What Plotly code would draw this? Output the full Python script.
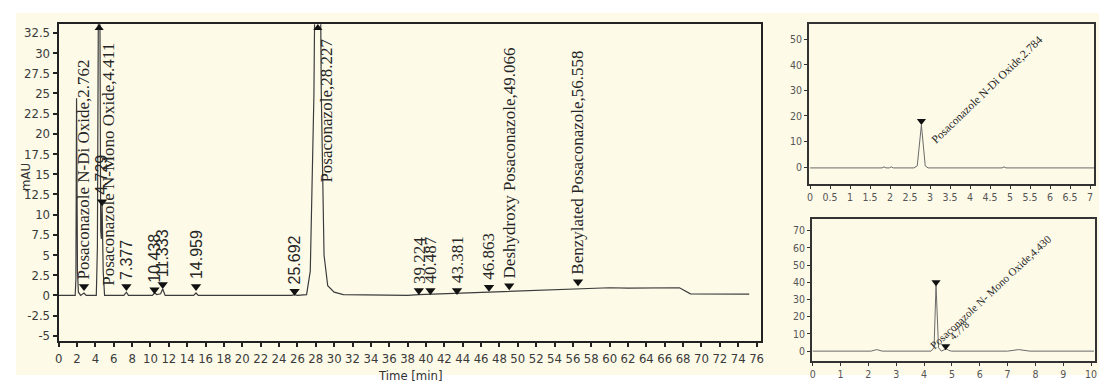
import plotly.graph_objects as go

# ---------------- main chromatogram (0-76 min) ----------------
main_time = [0.0, 1.80, 1.88, 1.95, 2.05, 2.15, 2.40, 2.762, 3.00, 4.10, 4.22, 4.411, 4.58, 4.65,
             4.729, 4.85, 5.00, 7.10, 7.377, 7.60, 10.20, 10.438, 10.70, 11.10, 11.333, 11.60,
             14.70, 14.959, 15.20, 25.40, 25.692, 26.00, 27.00, 27.40, 27.80, 28.227, 28.60,
             28.90, 29.30, 30.00, 31.00, 38.00, 39.224, 40.487, 43.381, 46.863, 49.066, 50.00,
             52.00, 56.558, 60.00, 62.00, 67.60, 68.80, 75.20]
main_mau = [0.0, 0.0, 2.0, 24.4, 3.0, 0.4, 0.0, 0.3, 0.0, 0.0, 6.0, 60.0, 8.0, 7.0,
            11.3, 3.0, 0.0, 0.0, 0.4, 0.0, 0.0, 0.3, 0.1, 0.2, 0.8, 0.0,
            0.0, 0.3, 0.0, 0.0, 0.1, 0.0, 0.1, 3.0, 25.0, 80.0, 25.0,
            5.0, 1.2, 0.4, 0.1, 0.0, 0.1, 0.15, 0.25, 0.4, 0.5, 0.55,
            0.65, 0.85, 0.95, 0.9, 0.95, 0.2, 0.15]

# integrated peaks (retention time, marker height, compound name)
peak_rt = [2.762, 4.729, 7.377, 10.438, 11.333, 14.959, 25.692,
           39.224, 40.487, 43.381, 46.863, 49.066, 56.558]
peak_mark = [1.1, 11.6, 1.1, 0.7, 1.35, 1.1, 0.5,
             0.6, 0.6, 0.6, 1.0, 1.2, 1.7]
peak_name = ["Posaconazole N-Di Oxide", "", "", "", "", "", "",
             "", "", "", "", "Deshydroxy Posaconazole", "Benzylated Posaconazole"]

# off-scale peaks
big_rt = [4.411, 28.227]
big_name = ["Posaconazole N-Mono Oxide", "Posaconazole"]

main_xticks = list(range(0, 77, 2))
main_yticks = [-5, -2.5, 0, 2.5, 5, 7.5, 10, 12.5, 15, 17.5, 20, 22.5, 25, 27.5, 30, 32.5]
main_ytext = ["-5", "-2.5", "0", "2.5", "5", "7.5", "10", "12.5", "15", "17.5",
              "20", "22.5", "25", "27.5", "30", "32.5"]

# ---------------- inset: N-Di Oxide standard ----------------
di_time = [0.0, 1.80, 1.85, 1.90, 1.98, 2.03, 2.08, 2.60, 2.68, 2.784, 2.88, 2.95,
           3.30, 4.80, 4.85, 4.90, 7.10]
di_mau = [-0.3, -0.3, 0.1, -0.3, -0.3, 0.1, -0.3, -0.3, 0.5, 16.5, 0.5, -0.3,
          -0.3, -0.3, 0.1, -0.3, -0.3]
di_peak = [2.784]
di_mark = [18.0]
di_label = ["Posaconazole N-Di Oxide,2.784"]
di_xticks = [0, 0.5, 1, 1.5, 2, 2.5, 3, 3.5, 4, 4.5, 5, 5.5, 6, 6.5, 7]
di_xtext = ["0", "0.5", "1", "1.5", "2", "2.5", "3", "3.5", "4", "4.5", "5", "5.5", "6", "6.5", "7"]
di_yticks = [0, 10, 20, 30, 40, 50]

# ---------------- inset: N-Mono Oxide standard ----------------
mono_time = [0.0, 2.10, 2.30, 2.50, 4.25, 4.36, 4.43, 4.52, 4.62, 4.72, 4.80, 4.88,
             4.98, 7.00, 7.40, 7.80, 10.10]
mono_mau = [0.0, 0.0, 0.9, 0.0, 0.0, 2.0, 38.5, 2.0, 0.0, 0.8, 1.4, 0.5,
            0.0, 0.0, 0.9, 0.0, 0.0]
mono_peak = [4.430, 4.778]
mono_mark = [40.0, 2.9]
mono_label = ["Posaconazole N- Mono Oxide,4.430", "4.778"]
mono_xticks = list(range(0, 11))
mono_yticks = [0, 10, 20, 30, 40, 50, 60, 70]

INK = "#262626"
TICK_FONT = "Liberation Sans Narrow, DejaVu Sans Condensed, Liberation Sans, sans-serif"
SERIF = "Liberation Serif, Times New Roman, serif"
SANS = "Liberation Sans, Arial, sans-serif"
CREAM = "#FDFAE8"

W, H = 1102, 385


def px(xp):
    return xp / W


def py(yp):
    return 1 - yp / H


fig = go.Figure()

# traces
fig.add_trace(go.Scatter(x=main_time, y=main_mau, mode="lines",
                         line=dict(color="#3c3c3c", width=1.2), xaxis="x", yaxis="y"))
fig.add_trace(go.Scatter(x=peak_rt, y=peak_mark, mode="markers", cliponaxis=False,
                         marker=dict(symbol="triangle-down", size=9, color="#111"),
                         xaxis="x", yaxis="y"))
fig.add_trace(go.Scatter(x=big_rt, y=[33.1, 33.1], mode="markers", cliponaxis=False,
                         marker=dict(symbol="triangle-up", size=8, color="#111"),
                         xaxis="x", yaxis="y"))

fig.add_trace(go.Scatter(x=di_time, y=di_mau, mode="lines",
                         line=dict(color="#6a6a6a", width=1), xaxis="x2", yaxis="y2"))
fig.add_trace(go.Scatter(x=di_peak, y=di_mark, mode="markers", cliponaxis=False,
                         marker=dict(symbol="triangle-down", size=8, color="#111"),
                         xaxis="x2", yaxis="y2"))

fig.add_trace(go.Scatter(x=mono_time, y=mono_mau, mode="lines",
                         line=dict(color="#6a6a6a", width=1), xaxis="x3", yaxis="y3"))
fig.add_trace(go.Scatter(x=mono_peak, y=mono_mark, mode="markers", cliponaxis=False,
                         marker=dict(symbol="triangle-down", size=8, color="#111"),
                         xaxis="x3", yaxis="y3"))

annotations = []

# labels of integrated peaks, written vertically above their markers
for rt, m, name in zip(peak_rt, peak_mark, peak_name):
    rt_txt = f"{rt:.3f}"
    if name:
        text, family = f"{name},{rt_txt}", SERIF
    elif rt < 30:
        text, family = rt_txt, SANS
    else:
        text, family = rt_txt, SERIF
    annotations.append(dict(x=rt, y=m, xref="x", yref="y", text=text, textangle=-90,
                            showarrow=False, xanchor="center", yanchor="bottom", yshift=5,
                            font=dict(family=family, size=17 if family == SERIF else 16, color=INK)))

# off-scale peak labels
big_base = [0.9, 13.7]
for rt, name, base in zip(big_rt, big_name, big_base):
    annotations.append(dict(x=rt, y=base, xref="x", yref="y", text=f"{name},{rt:.3f}",
                            textangle=-90, showarrow=False, xanchor="center", yanchor="bottom",
                            xshift=9, font=dict(family=SERIF, size=17, color=INK)))

# inset labels
annotations.append(dict(x=2.92, y=7.0, xref="x2", yref="y2", text=di_label[0], textangle=-44,
                        showarrow=False, xanchor="left", yanchor="bottom",
                        font=dict(family=SERIF, size=11.5, color=INK)))
annotations.append(dict(x=4.02, y=-1.5, xref="x3", yref="y3", text=mono_label[0], textangle=-43,
                        showarrow=False, xanchor="left", yanchor="bottom",
                        font=dict(family=SERIF, size=11, color=INK)))
annotations.append(dict(x=4.72, y=3.5, xref="x3", yref="y3", text=mono_label[1], textangle=-43,
                        showarrow=False, xanchor="left", yanchor="bottom",
                        font=dict(family=SERIF, size=10, color=INK)))

# axis titles
annotations.append(dict(x=px(409), y=py(377), xref="paper", yref="paper", text="Time [min]",
                        showarrow=False, xanchor="center", yanchor="middle",
                        font=dict(family=TICK_FONT, size=13, color="#333")))
annotations.append(dict(x=px(21), y=py(178), xref="paper", yref="paper", text="mAU",
                        textangle=-90, showarrow=False, xanchor="center", yanchor="middle",
                        font=dict(family=TICK_FONT, size=13, color="#333")))

axis_common = dict(showline=True, mirror=True, ticks="outside", showgrid=False, zeroline=False)

fig.update_layout(
    width=W, height=H,
    margin=dict(l=0, r=0, t=0, b=0),
    paper_bgcolor="white",
    plot_bgcolor=CREAM,
    showlegend=False,
    shapes=[dict(type="rect", xref="paper", yref="paper", layer="below",
                 x0=px(12), x1=1.0, y0=py(377), y1=py(13),
                 fillcolor=CREAM, line=dict(width=0))],
    annotations=annotations,
    xaxis=dict(domain=[px(55), px(762)], range=[0, 76.5], anchor="y",
               tickvals=main_xticks, ticklen=4, tickwidth=1.5, tickcolor="#222",
               linewidth=2, linecolor="#222",
               tickfont=dict(family=TICK_FONT, size=13, color="#3a3a3a"), **axis_common),
    yaxis=dict(domain=[py(343), py(24.5)], range=[-5.67, 33.55], anchor="x",
               tickvals=main_yticks, ticktext=main_ytext, ticklen=4, tickwidth=1.5, tickcolor="#222",
               linewidth=2, linecolor="#222",
               tickfont=dict(family=TICK_FONT, size=13, color="#3a3a3a"), **axis_common),
    xaxis2=dict(domain=[px(810), px(1097)], range=[-0.03, 7.1], anchor="y2",
                tickvals=di_xticks, ticktext=di_xtext, ticklen=3, tickwidth=1, tickcolor="#333",
                linewidth=1.5, linecolor="#333",
                tickfont=dict(family=TICK_FONT, size=10.5, color="#555"), **axis_common),
    yaxis2=dict(domain=[py(185), py(24)], range=[-6.6, 56], anchor="x2",
                tickvals=di_yticks, ticklen=3, tickwidth=1, tickcolor="#333",
                linewidth=1.5, linecolor="#333",
                tickfont=dict(family=TICK_FONT, size=10.5, color="#555"), **axis_common),
    xaxis3=dict(domain=[px(813), px(1098)], range=[-0.03, 10.14], anchor="y3",
                tickvals=mono_xticks, ticklen=3, tickwidth=1, tickcolor="#333",
                linewidth=1.5, linecolor="#333",
                tickfont=dict(family=TICK_FONT, size=10.5, color="#555"), **axis_common),
    yaxis3=dict(domain=[py(363), py(220)], range=[-5.8, 76.9], anchor="x3",
                tickvals=mono_yticks, ticklen=3, tickwidth=1, tickcolor="#333",
                linewidth=1.5, linecolor="#333",
                tickfont=dict(family=TICK_FONT, size=10.5, color="#555"), **axis_common),
)

fig.write_html("out.html")
